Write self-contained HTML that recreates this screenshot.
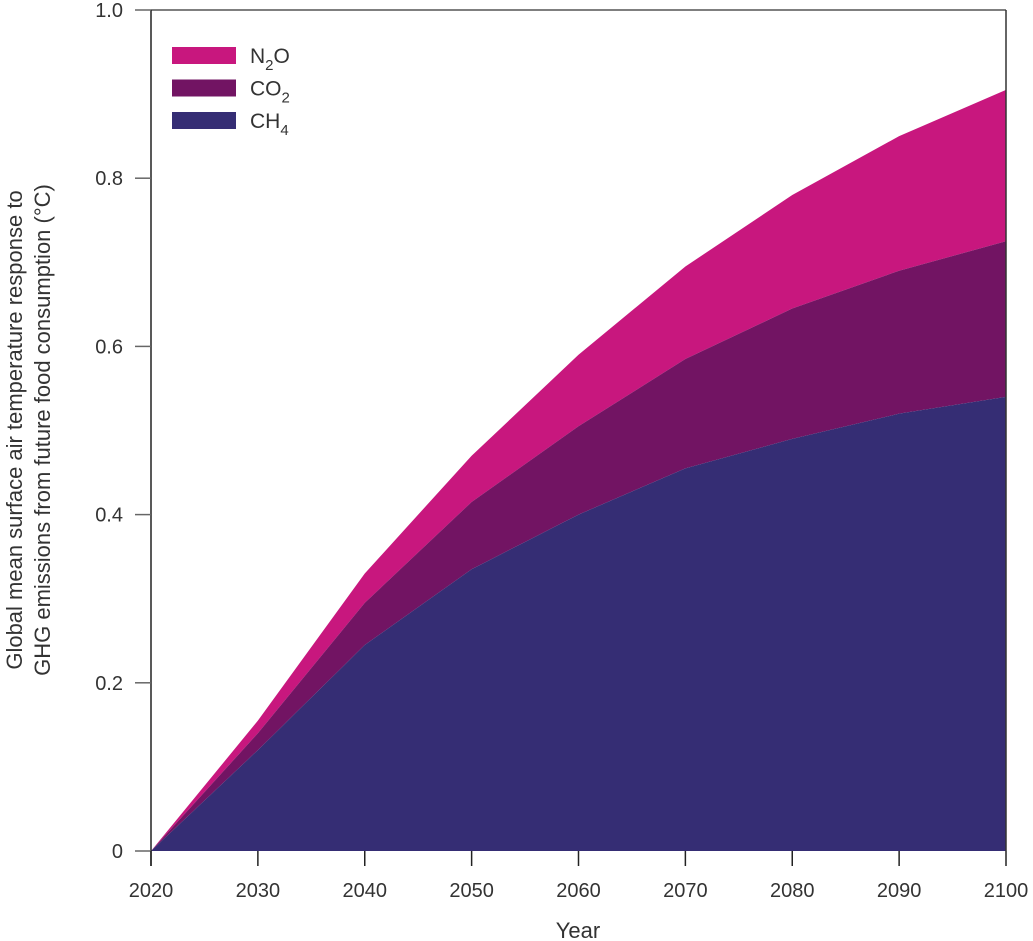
<!DOCTYPE html>
<html><head><meta charset="utf-8"><style>
html,body{margin:0;padding:0;background:#fff;}
svg{display:block;font-family:"Liberation Sans",sans-serif;}
</style></head><body>
<svg id="chart" width="1033" height="941" viewBox="0 0 1033 941"></svg>
<script>
const years = [2020,2030,2040,2050,2060,2070,2080,2090,2100];
const ch4 = [0,0.12,0.245,0.335,0.40,0.455,0.49,0.52,0.54];
const co2 = [0,0.02,0.05,0.08,0.105,0.13,0.155,0.17,0.185];
const n2o = [0,0.015,0.035,0.055,0.085,0.11,0.135,0.16,0.18];
const xTicks = [2020,2030,2040,2050,2060,2070,2080,2090,2100];
const yTicks = [0,0.2,0.4,0.6,0.8,1.0];
const yTickLabels = ["0","0.2","0.4","0.6","0.8","1.0"];

const NS="http://www.w3.org/2000/svg";
const svg=document.getElementById('chart');
const X0=151,X1=1006,Y0=851,Y1=10;
const xs=v=>X0+(v-2020)/80*(X1-X0);
const ys=v=>Y0-v*(Y0-Y1);
function mk(t,a,p){const e=document.createElementNS(NS,t);for(const k in a)e.setAttribute(k,a[k]);(p||svg).appendChild(e);return e;}

const s1=ch4.slice(), s2=ch4.map((v,i)=>v+co2[i]), s3=s2.map((v,i)=>v+n2o[i]);
function area(top,bot){
  let d='M'+years.map((y,i)=>xs(y)+','+ys(top[i])).join(' L');
  for(let i=years.length-1;i>=0;i--) d+=' L'+xs(years[i])+','+ys(bot[i]);
  return d+'Z';
}
const zero=years.map(()=>0);
let e;
e=mk('path',{d:area(s3,s2),fill:'#c8177e'});


e=mk('path',{d:area(s2,s1),fill:'#721463'});


e=mk('path',{d:area(s1,zero),fill:'#352d74'});



// frame
e=mk('line',{x1:X0,y1:Y1,x2:X1,y2:Y1,stroke:'#555','stroke-width':1.5});


e=mk('line',{x1:X1,y1:Y1,x2:X1,y2:Y0,stroke:'#333','stroke-width':1.5});


e=mk('line',{x1:X0,y1:Y1,x2:X0,y2:Y0+15,stroke:'#222','stroke-width':1.5});



yTicks.forEach((v,i)=>{
  let t=mk('line',{x1:135,y1:ys(v),x2:X0,y2:ys(v),stroke:'#666','stroke-width':1.5});
  
  
  let l=mk('text',{x:123,y:ys(v)+7,'text-anchor':'end','font-size':20,fill:'#333'});
  l.textContent=yTickLabels[i];
  
  
});
xTicks.forEach(v=>{
  let t=mk('line',{x1:xs(v),y1:Y0,x2:xs(v),y2:Y0+15,stroke:'#222','stroke-width':1.5});
  
  
  let l=mk('text',{x:xs(v),y:897,'text-anchor':'middle','font-size':20,fill:'#333'});
  l.textContent=v;
  
  
});
e=mk('text',{x:578,y:938,'text-anchor':'middle','font-size':22,fill:'#333'});
e.textContent='Year';



const yt=mk('text',{transform:'translate(0,430) rotate(-90)','text-anchor':'middle','font-size':22,fill:'#333'});


const t1=mk('tspan',{x:0,y:22},yt);t1.textContent='Global mean surface air temperature response to';
const t2=mk('tspan',{x:0,y:50},yt);t2.textContent='GHG emissions from future food consumption (°C)';

const leg=[['#c8177e','N','2','O',null],['#721463','CO','2','',1],['#352d74','CH','4','',1]];
const legNames=['legend-n2o','legend-co2','legend-ch4'];
leg.forEach((L,i)=>{
  const g=mk('g',{});
  
  
  const y=47+i*32.5;
  mk('rect',{x:172,y:y,width:64,height:17,fill:L[0]},g);
  const tx=mk('text',{x:250,y:y+16,'font-size':21,fill:'#333'},g);
  const a=mk('tspan',{},tx);a.textContent=L[1];
  const b=mk('tspan',{dy:7,'font-size':15},tx);b.textContent=L[2];
  if(L[3]){const c=mk('tspan',{dy:-7},tx);c.textContent=L[3];}
});
</script>
</body></html>
